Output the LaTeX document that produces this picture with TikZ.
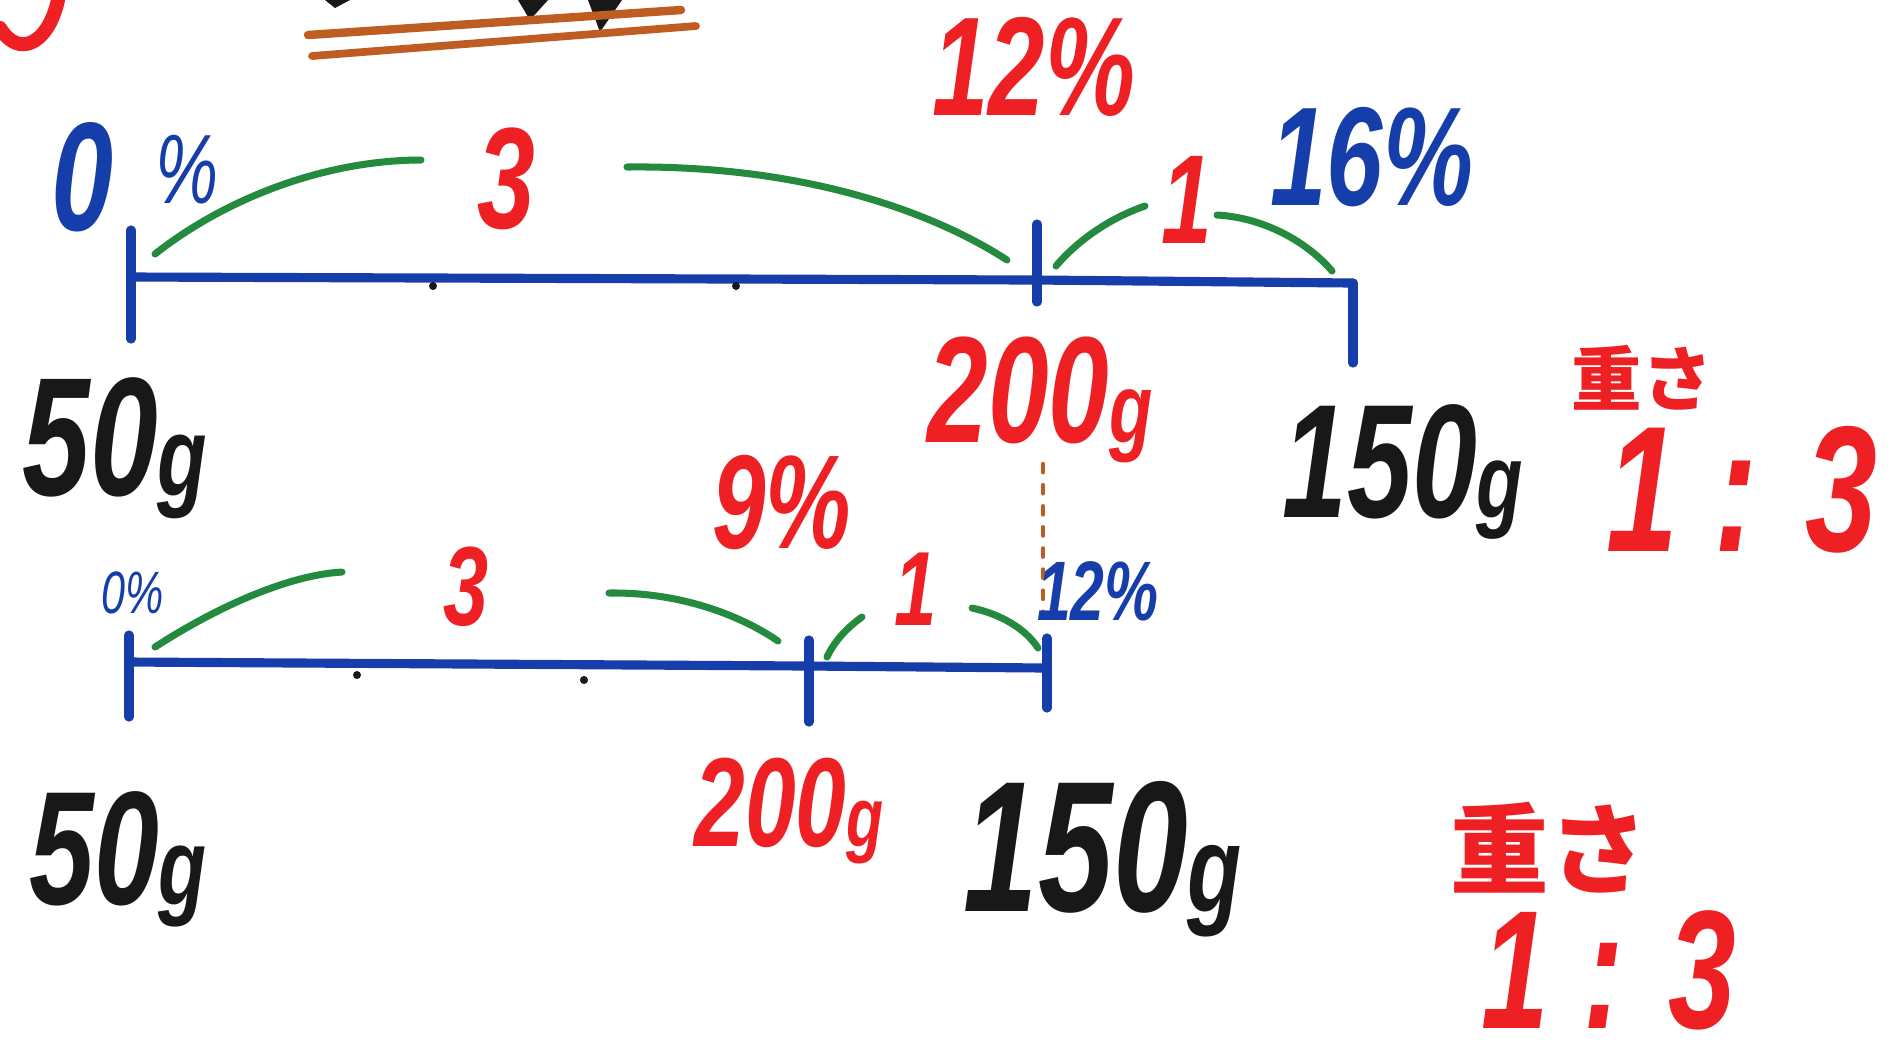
\documentclass[tikz,border=0pt]{standalone}
\usepackage{fontspec}
\setmainfont{Liberation Sans}
\newfontfamily\penfont[FakeStretch=0.72]{Liberation Sans}
\newfontfamily\cjkfont{Noto Sans CJK JP}
\newcommand{\penfs}[1]{\fontsize{#1}{#1}\selectfont}
\definecolor{penred}{RGB}{238,32,36}
\definecolor{penblue}{RGB}{22,62,170}
\definecolor{pengreen}{RGB}{36,138,62}
\definecolor{penblack}{RGB}{24,24,24}
\definecolor{penbrown}{RGB}{190,92,34}
\begin{document}
\begin{tikzpicture}[x=0.01cm, y=-0.01cm, line cap=round, line join=round,
  pen/.style={inner sep=0pt, font=\penfont\bfseries\itshape\penfs{#1}},
  thinpen/.style={inner sep=0pt, font=\penfont\itshape\penfs{#1}},
  kanji/.style={inner sep=0pt, font=\cjkfont\bfseries\penfs{#1}},
  axis/.style={draw=penblue, line width=2.6pt},
  arcline/.style={draw=pengreen, line width=2pt},
  guide/.style={draw=penbrown, line width=1.1pt, dash pattern=on 2.5pt off 3.5pt}]
\useasboundingbox (0,0) rectangle (1897,1059);
% Cut-off heading at the top edge
\draw[penred, line width=4pt] (0,28) .. controls (18,58) and (48,45) .. (58,0);
\fill[penblack] (325,0) -- (350,0) -- (335,8) -- cycle;
\fill[penblack] (518,0) -- (548,0) -- (530,20) -- cycle;
\fill[penblack] (588,0) -- (622,0) -- (600,32) -- cycle;
\draw[penbrown, line width=2.4pt] (308,35) -- (681,10);
\draw[penbrown, line width=2.2pt] (312,56) -- (696,26);
% Upper number line
\coordinate (aL) at (131,277);
\coordinate (aM) at (1037,280);
\coordinate (aR) at (1353,283);
\draw[axis] (aL) -- (aM) -- (aR);
\draw[axis] (aL) ++(0,-47) -- ++(0,109);
\draw[axis] (aM) ++(0,-56) -- ++(0,78);
\draw[axis] (aR) -- ++(0,80);
\fill[penblack] (433,286) circle (4);
\fill[penblack] (736,286) circle (4);
% Upper arcs
\coordinate (a1s) at (155,254); \coordinate (a1e) at (421,160);
\coordinate (a2s) at (627,167); \coordinate (a2e) at (1007,260);
\coordinate (a3s) at (1056,266); \coordinate (a3e) at (1145,206);
\coordinate (a4s) at (1217,215); \coordinate (a4e) at (1332,271);
\draw[arcline] (a1s) .. controls (230,195) and (330,160) .. (a1e);
\draw[arcline] (a2s) .. controls (800,165) and (930,210) .. (a2e);
\draw[arcline] (a3s) .. controls (1078,240) and (1110,218) .. (a3e);
\draw[arcline] (a4s) .. controls (1268,218) and (1310,245) .. (a4e);
% Upper labels
\node[pen=44, text=penblue] (zeroA) at (82,177) {0};
\node[thinpen=28, text=penblue] (pctA) at (187,170) {\%};
\node[pen=41, text=penred] (threeA) at (506,179) {3};
\node[pen=40, text=penred] (twelveA) at (1034,67) {12\%};
\node[pen=36, text=penred] (oneA) at (1187,200) {1};
\node[pen=40, text=penblue] (sixteenA) at (1372,157) {16\%};
\node[pen=48, text=penblack] (fiftyA) at (115,448) {50{\penfs{32}g}};
\node[pen=43, text=penred] (twohundA) at (1040,400) {200{\penfs{28}g}};
\node[pen=46, text=penblack] (onefiftyA) at (1403,472) {150{\penfs{30}g}};
\node[kanji=20, text=penred] (weightA) at (1642,378) {重さ};
\node[pen=51, text=penred] (ratioA) at (1742,490) {1 : 3};
% Guide from 200g down to the lower line
\draw[guide] (twohundA.south -| aM) ++(6,0) -- (1043,613);
% Lower number line
\coordinate (bL) at (129,662);
\coordinate (bM) at (809,666);
\coordinate (bR) at (1047,668);
\draw[axis] (bL) -- (bM) -- (bR);
\draw[axis] (bL) ++(0,-27) -- ++(0,82);
\draw[axis] (bM) ++(0,-26) -- ++(0,82);
\draw[axis] (bR) ++(0,-30) -- ++(0,70);
\fill[penblack] (357,675) circle (4);
\fill[penblack] (584,680) circle (4);
% Lower arcs
\coordinate (b1s) at (155,647); \coordinate (b1e) at (342,572);
\coordinate (b2s) at (609,593); \coordinate (b2e) at (778,641);
\coordinate (b3s) at (827,657); \coordinate (b3e) at (862,617);
\coordinate (b4s) at (972,608); \coordinate (b4e) at (1038,648);
\draw[arcline] (b1s) .. controls (220,605) and (290,575) .. (b1e);
\draw[arcline] (b2s) .. controls (680,592) and (740,615) .. (b2e);
\draw[arcline] (b3s) .. controls (835,640) and (848,627) .. (b3e);
\draw[arcline] (b4s) .. controls (1000,614) and (1025,628) .. (b4e);
% Lower labels
\node[thinpen=17, text=penblue] (zeroB) at (133,593) {0\%};
\node[pen=32, text=penred] (threeB) at (466,587) {3};
\node[pen=38, text=penred] (nineB) at (782,502) {9\%};
\node[pen=30, text=penred] (oneB) at (916,589) {1};
\node[pen=24, text=penblue] (twelveB) at (1098,591) {12\%};
\node[pen=46, text=penblack] (fiftyB) at (118,859) {50{\penfs{31}g}};
\node[pen=36, text=penred] (twohundB) at (789,811) {200{\penfs{24}g}};
\node[pen=53, text=penblack] (onefiftyB) at (1103,859) {150{\penfs{35}g}};
\node[kanji=28, text=penred] (weightB) at (1549,848) {重さ};
\node[pen=48, text=penred] (ratioB) at (1609,970) {1 : 3};
\end{tikzpicture}
\end{document}
